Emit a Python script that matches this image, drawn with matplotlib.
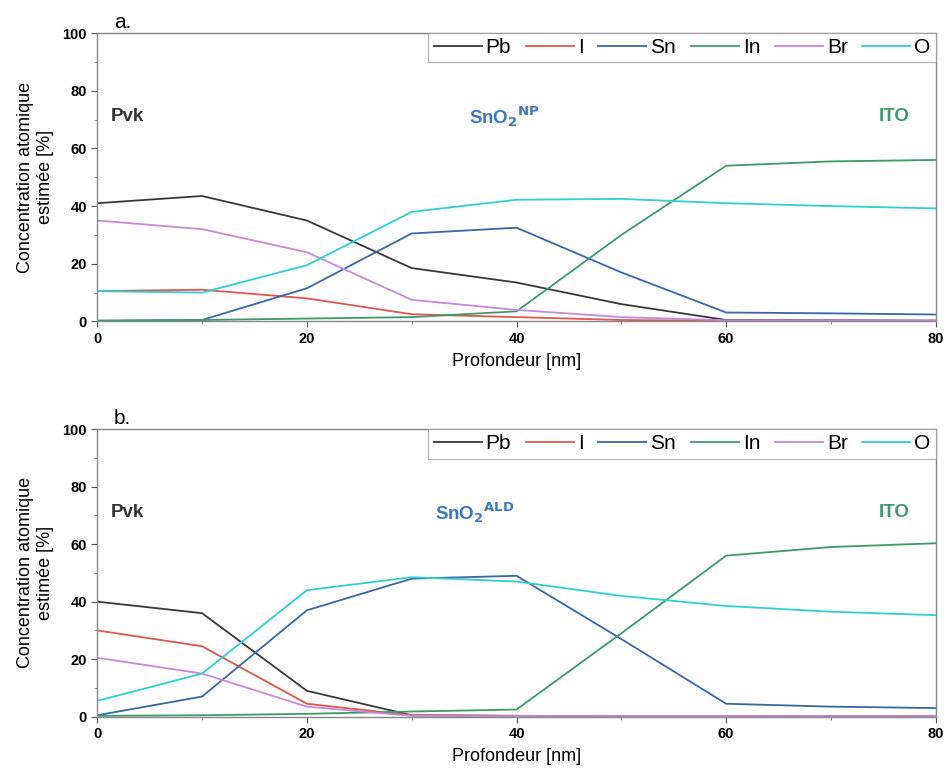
import numpy as np
import matplotlib.pyplot as plt
from matplotlib.ticker import MultipleLocator

plt.rcParams['font.family'] = ['Liberation Sans', 'DejaVu Sans']

# profondeur [nm]
depth = [0, 10, 20, 30, 40, 50, 60, 70, 80]
elements = ["Pb", "I", "Sn", "In", "Br", "O"]
colors = ["#383838", "#e0554f", "#3a66a6", "#3c9a6a", "#c58ad6", "#2ed0d0"]

# a. SnO2 NP
pb_a = [41, 43.5, 35, 18.5, 13.5, 6, 0.5, 0.4, 0.3]
i_a = [10.5, 11, 8, 2.5, 1.5, 0.5, 0.2, 0.2, 0.2]
sn_a = [0.2, 0.5, 11.5, 30.5, 32.5, 17, 3.1, 2.8, 2.4]
in_a = [0.3, 0.5, 1, 1.5, 3.5, 30, 54, 55.5, 56]
br_a = [35, 32, 24, 7.5, 4, 1.5, 0.4, 0.3, 0.3]
o_a = [10.5, 10, 19.5, 38, 42.2, 42.5, 41, 40, 39.2]

# b. SnO2 ALD
pb_b = [40, 36, 9, 0.5, 0.3, 0.2, 0.2, 0.2, 0.2]
i_b = [30, 24.5, 4.5, 0.5, 0.3, 0.2, 0.2, 0.2, 0.2]
sn_b = [0.5, 7, 37, 48, 49, 27, 4.5, 3.5, 3]
in_b = [0.3, 0.5, 1, 1.8, 2.5, 29, 56, 59, 60.3]
br_b = [20.5, 15, 3.5, 0.3, 0.2, 0.2, 0.2, 0.2, 0.2]
o_b = [5.5, 15, 44, 48.5, 47, 42, 38.5, 36.5, 35.3]

panels = [
    ("a.", [pb_a, i_a, sn_a, in_a, br_a, o_a], "NP"),
    ("b.", [pb_b, i_b, sn_b, in_b, br_b, o_b], "ALD"),
]
boxes = [[0.102, 0.582, 0.880, 0.375], [0.102, 0.068, 0.880, 0.374]]

fig = plt.figure(figsize=(9.53, 7.69), dpi=100)

for (tag, series, sup), box in zip(panels, boxes):
    ax = fig.add_axes(box)
    for name, vals, c in zip(elements, series, colors):
        ax.plot(depth, vals, color=c, lw=1.3, label=name)
    ax.set_xlim(0, 80)
    ax.set_ylim(0, 100)
    ax.xaxis.set_major_locator(MultipleLocator(20))
    ax.xaxis.set_minor_locator(MultipleLocator(10))
    ax.yaxis.set_major_locator(MultipleLocator(20))
    ax.yaxis.set_minor_locator(MultipleLocator(10))
    ax.tick_params(which='major', length=4, width=0.8, labelsize=10.5, color='#555555')
    ax.tick_params(which='minor', length=2.5, width=0.6, color='#777777')
    for lab in ax.get_xticklabels() + ax.get_yticklabels():
        lab.set_fontweight('bold')
    for sp in ax.spines.values():
        sp.set_color('#888888')
        sp.set_linewidth(1.0)
    ax.set_xlabel("Profondeur [nm]", fontsize=13, labelpad=5)
    ax.set_ylabel("Concentration atomique\nestimée [%]", fontsize=13, labelpad=6)

    ax.text(0.02, 1.005, tag, transform=ax.transAxes, fontsize=15, va='bottom')
    ax.text(1.3, 71, "Pvk", fontsize=13.5, fontweight='bold', color='#333333', va='center')
    ax.text(35.5 if sup == "NP" else 32.2, 71, r"SnO$_\mathbf{2}$$^{\mathbf{%s}}$" % sup,
            fontsize=13.5, fontweight='bold', color='#3a78c4', va='center')
    ax.text(74.6, 71, "ITO", fontsize=13.5, fontweight='bold', color='#3c9a6a', va='center')

    leg = ax.legend(loc='upper right', ncol=6, fontsize=15, frameon=True, fancybox=False,
                    borderaxespad=0, handlelength=2.3, handletextpad=0.2, columnspacing=0.7,
                    borderpad=0.25)
    leg.get_frame().set_edgecolor('#999999')
    leg.get_frame().set_linewidth(0.8)

fig.savefig("out.png", dpi=100)
